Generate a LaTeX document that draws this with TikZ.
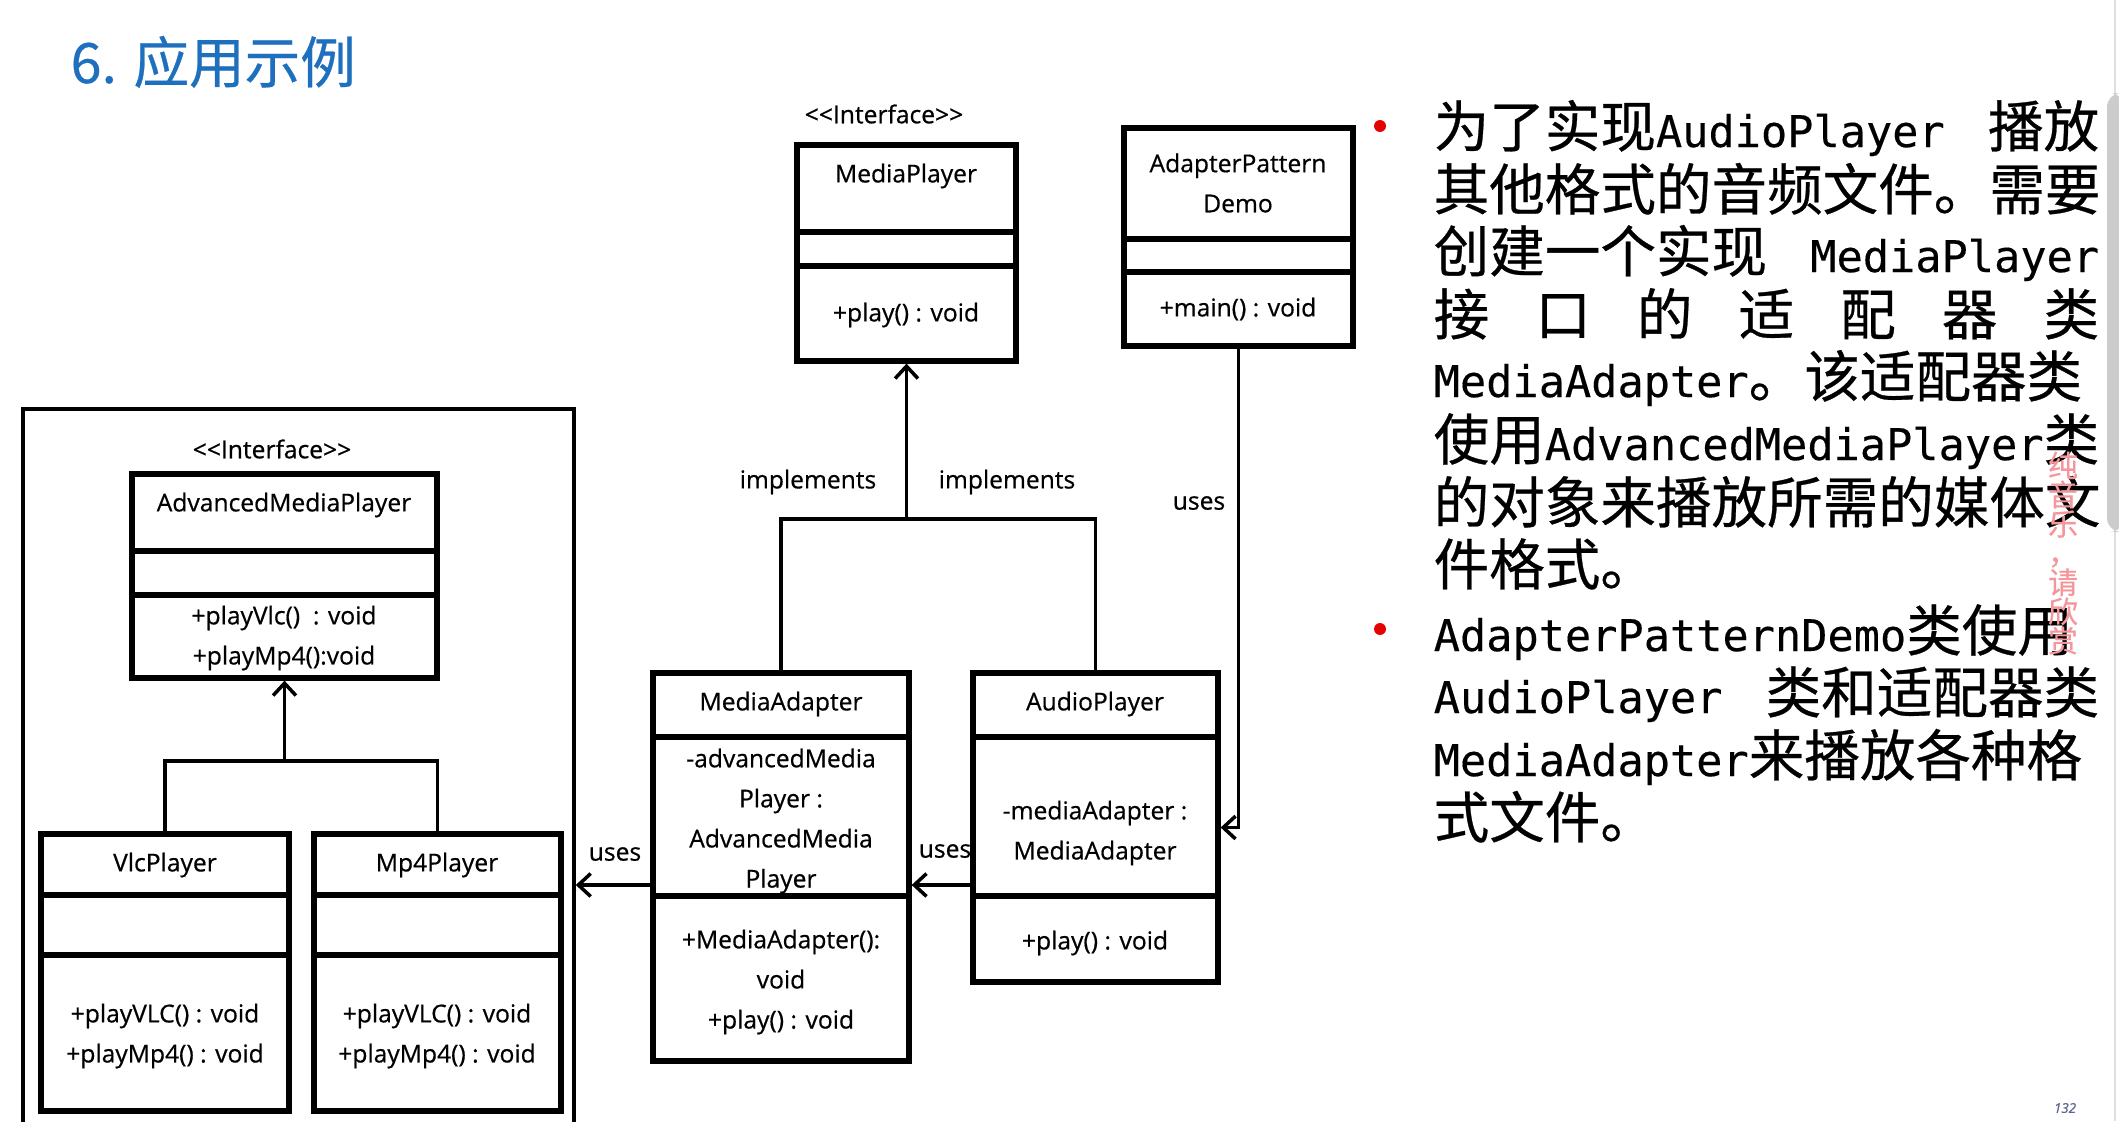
\documentclass[tikz,border=0pt]{standalone}
\usepackage{fontspec}
\setmainfont{Open Sans}[FakeBold = 0.6]
\newfontfamily\cjk{Noto Sans CJK SC}[FakeBold = 0.5]
\newfontfamily\monolat{DejaVu Sans Mono}[FakeBold = 0.3]
\usetikzlibrary{arrows.meta, fit, positioning}

\definecolor{titleblue}{RGB}{30,112,190}
\definecolor{bulletred}{RGB}{230,0,0}
\definecolor{markpink}{RGB}{244,150,155}
\definecolor{pagegray}{RGB}{90,100,140}

\newcommand{\lat}[1]{{\monolat\fontsize{12.4}{19}\selectfont #1}}
\newcommand{\classrule}[2]{\draw [line width = 1.5pt] (#1.west |- 0,#2) -- (#1.east |- 0,#2);}

\tikzset{
	classbox/.style = {draw, line width = 1.5pt, inner sep = 0pt},
	groupbox/.style = {draw, line width = 1pt, inner sep = 0pt},
	umltext/.style = {font = \fontsize{7}{11.4}\selectfont, align = center, inner sep = 0pt, text = black},
	wire/.style = {line width = 1pt},
	link/.style = {wire, -{Straight Barb[length = 3.5pt, width = 6.5pt]}},
	para/.style = {anchor = base west, inner sep = 0pt, font = \cjk\fontsize{15.8}{19}\selectfont},
}

\begin{document}
\begin{tikzpicture}[x = 0.01cm, y = -0.01cm]

	\useasboundingbox (0,0) rectangle (2119,1121);

	% Title

	\node [anchor = base west, inner sep = 0pt, text = titleblue, font = \cjk\fontsize{15.8}{20}\selectfont] (title) at (70,83) {6. 应用示例};

	% MediaPlayer interface and the demo class

	\node [classbox, fit = {(797,145) (1016,361)}] (mplayer) {};
	\classrule{mplayer}{232}
	\classrule{mplayer}{266}
	\node [umltext] (mplayer-st) at (884,114) {<{}<Interface>{}>};
	\node [umltext] (mplayer-name) at (906,176) {MediaPlayer};
	\node [umltext] (mplayer-ops) at (906,315) {+play() : void};

	\node [classbox, fit = {(1124,128) (1353,346)}] (demo) {};
	\classrule{demo}{239}
	\classrule{demo}{272}
	\node [umltext] (demo-name) at (1238,183) {AdapterPattern\\Demo};
	\node [umltext] (demo-ops) at (1238,309) {+main() : void};

	% Group with AdvancedMediaPlayer and its players

	\node [groupbox, fit = {(23,409) (574,1140)}] (group) {};
	\node [umltext] (amp-st) at (272,449) {<{}<Interface>{}>};

	\node [classbox, fit = {(132,474) (437,678)}] (amp) {};
	\classrule{amp}{551}
	\classrule{amp}{595}
	\node [umltext] (amp-name) at (284,505) {AdvancedMediaPlayer};
	\node [umltext] (amp-ops) at (284,638) {+playVlc()\ \ : void\\+playMp4():void};

	\node [classbox, fit = {(41,834) (289,1111)}] (vlc) {};
	\classrule{vlc}{895}
	\classrule{vlc}{955}
	\node [umltext] (vlc-name) at (165,865) {VlcPlayer};
	\node [umltext] (vlc-ops) at (165,1036) {+playVLC() : void\\+playMp4() : void};

	\node [classbox, fit = {(314,834) (561,1111)}] (mp4) {};
	\classrule{mp4}{895}
	\classrule{mp4}{955}
	\node [umltext] (mp4-name) at (437,865) {Mp4Player};
	\node [umltext] (mp4-ops) at (437,1036) {+playVLC() : void\\+playMp4() : void};

	% Adapter and audio player

	\node [classbox, fit = {(653,673) (909,1061)}] (adapter) {};
	\classrule{adapter}{737}
	\classrule{adapter}{896}
	\node [umltext] (adapter-name) at (781,704) {MediaAdapter};
	\node [umltext] (adapter-attr) at (781,821) {-advancedMedia\\Player :\\AdvancedMedia\\Player};
	\node [umltext] (adapter-ops) at (781,982) {+MediaAdapter():\\void\\+play() : void};

	\node [classbox, fit = {(973,673) (1218,982)}] (audio) {};
	\classrule{audio}{737}
	\classrule{audio}{896}
	\node [umltext] (audio-name) at (1095,704) {AudioPlayer};
	\node [umltext] (audio-attr) at (1095,833) {-mediaAdapter :\\MediaAdapter};
	\node [umltext] (audio-ops) at (1095,943) {+play() : void};

	% Connectors with labels

	\coordinate (ampjoin) at (amp.south |- 0,761);
	\draw [wire] (vlc.north) |- (ampjoin) -| (mp4.north);
	\draw [link] (ampjoin) -- (amp.south);

	\coordinate (impljoin) at (mplayer.south |- 0,519);
	\draw [wire] (adapter.north) |- (impljoin) -| (audio.north);
	\draw [link] (impljoin) -- (mplayer.south);
	\node [umltext] (impl-left) at (808,482) {implements};
	\node [umltext] (impl-right) at (1007,482) {implements};

	\draw [link] (demo.south) |- (audio.east);
	\node [umltext] (uses-demo) at (1199,503) {uses};

	\coordinate (usesrow) at (0,885);
	\draw [link] (audio.west |- usesrow) -- (adapter.east |- usesrow);
	\draw [link] (adapter.west |- usesrow) -- (group.east |- usesrow);
	\node [umltext] (uses-audio) at (945,851) {uses};
	\node [umltext] (uses-adapter) at (615,854) {uses};

	% Bullet text

	\node [circle, fill = bulletred, inner sep = 0pt, minimum size = 3.4pt] (bullet-a) at (1380,126) {};
	\node [circle, fill = bulletred, inner sep = 0pt, minimum size = 3.4pt] (bullet-b) at (1380,629) {};

	\foreach \base/\txt in {
		147/{为了实现\lat{AudioPlayer} 播放},
		210/{其他格式的音频文件。需要},
		272/{创建一个实现 \lat{MediaPlayer}},
		335/{接 口 的 适 配 器 类},
		397/{\lat{MediaAdapter}。该适配器类},
		460/{使用\lat{AdvancedMediaPlayer}类},
		523/{的对象来播放所需的媒体文},
		585/{件格式。\hfill},
		651/{\lat{AdapterPatternDemo}类使用},
		713/{\lat{AudioPlayer} 类和适配器类},
		776/{\lat{MediaAdapter}来播放各种格},
		838/{式文件。\hfill}}
		\node [para] (para-\base) at (1433,\base) {\makebox[6.65cm][s]{\txt}};

	% Overlay marks of the screen

	\node [inner sep = 0pt, align = center, text = markpink, font = \cjk\fontsize{8.5}{8.3}\selectfont] (mark) at (2063,553) {纯\\音\\乐\\，\\请\\欣\\赏};
	\draw [gray!25] (2115,0) -- (2115,1121);
	\fill [gray!40, rounded corners = 4pt] (2107,93) rectangle (2124,532);
	\node [text = pagegray, font = \itshape\fontsize{3.8}{4}\selectfont] (pagenum) at (2065,1108) {132};

\end{tikzpicture}
\end{document}
